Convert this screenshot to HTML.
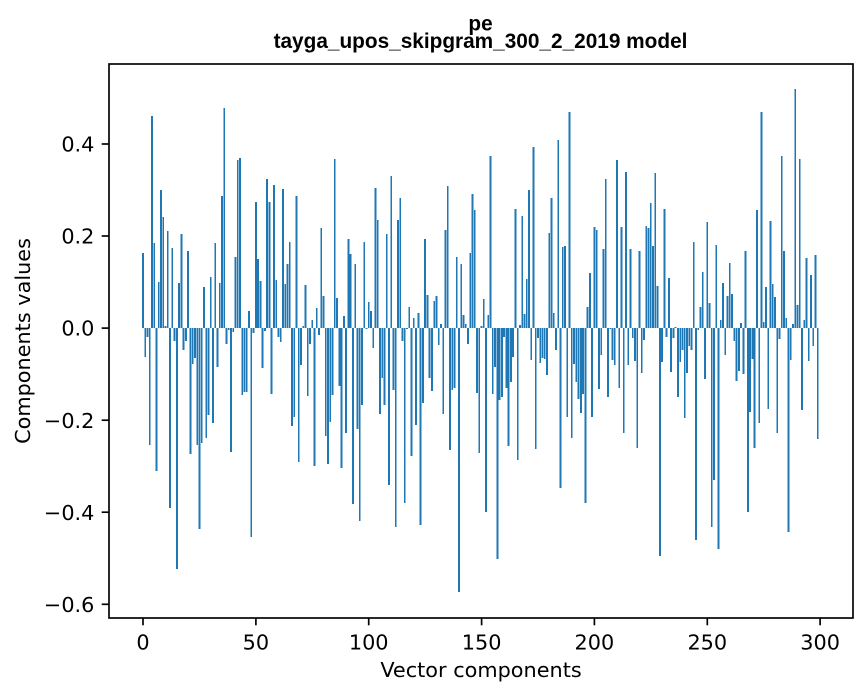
<!DOCTYPE html>
<html><head><meta charset="utf-8"><style>
html,body{margin:0;padding:0;background:#fff;}
svg{display:block;}
.t{font-family:"DejaVu Sans","Liberation Sans",sans-serif;font-size:20.8px;fill:#000;}
.ttl{font-family:"Liberation Sans",Arial,sans-serif;font-size:20.8px;font-weight:bold;fill:#000;}
</style></head><body>
<svg width="867" height="696" viewBox="0 0 867 696" xmlns="http://www.w3.org/2000/svg">
<rect width="867" height="696" fill="#fff"/>
<g transform="translate(143,327.8) scale(2.257,1)">
<path fill="#1f77b4" shape-rendering="crispEdges" d="M-0.4 0v-74.7h.8V0zm1 0v29h.8V0zm1 0v9h.8V0zm1 0v117h.8V0zm1 0v-211.7h.8V0zm1 0v-84.7h.8V0zm1 0v143h.8V0zm1 0v-45.7h.8V0zm1 0v-137.7h.8V0zm1 0v-110.7h.8V0zm1 0v-2h.8V0zm1 0v-96.7h.8V0zm1 0v180h.8V0zm1 0v-79.7h.8V0zm1 0v13h.8V0zm1 0v241h.8V0zm1 0v-44.7h.8V0zm1 0v-93.7h.8V0zm1 0v22h.8V0zm1 0v13h.8V0zm1 0v-76.7h.8V0zm1 0v126h.8V0zm1 0v36h.8V0zm1 0v30h.8V0zm1 0v117h.8V0zm1 0v201h.8V0zm1 0v115h.8V0zm1 0v-40.7h.8V0zm1 0v110h.8V0zm1 0v87h.8V0zm1 0v-50.7h.8V0zm1 0v95h.8V0zm1 0v-84.7h.8V0zm1 0v39h.8V0zm1 0v-44.7h.8V0zm1 0v-131.7h.8V0zm1 0v-219.7h.8V0zm1 0v16h.8V0zm1 0v2h.8V0zm1 0v124h.8V0zm1 0v4h.8V0zm1 0v-70.7h.8V0zm1 0v-167.7h.8V0zm1 0v-169.7h.8V0zm1 0v67h.8V0zm1 0v64h.8V0zm1 0v64h.8V0zm1 0v-17h.8V0zm1 0v209h.8V0zm1 0v5h.8V0zm1 0v-125.7h.8V0zm1 0v-68.7h.8V0zm1 0v-46.7h.8V0zm1 0v40h.8V0zm1 0v3h.8V0zm1 0v-148.7h.8V0zm1 0v-125.7h.8V0zm1 0v66h.8V0zm1 0v-142.7h.8V0zm1 0v-47.7h.8V0zm1 0v9h.8V0zm1 0v14h.8V0zm1 0v-138.7h.8V0zm1 0v-43.7h.8V0zm1 0v-63.7h.8V0zm1 0v-85.7h.8V0zm1 0v98h.8V0zm1 0v89h.8V0zm1 0v-131.7h.8V0zm1 0v134h.8V0zm1 0v37h.8V0zm1 0v-1.7h.8V0zm1 0v-42.7h.8V0zm1 0v68h.8V0zm1 0v16h.8V0zm1 0v-7.7h.8V0zm1 0v138h.8V0zm1 0v-19.7h.8V0zm1 0v7h.8V0zm1 0v-99.7h.8V0zm1 0v-31.7h.8V0zm1 0v108h.8V0zm1 0v136h.8V0zm1 0v94h.8V0zm1 0v67h.8V0zm1 0v-168.7h.8V0zm1 0v-29.7h.8V0zm1 0v58h.8V0zm1 0v140h.8V0zm1 0v-11.7h.8V0zm1 0v105h.8V0zm1 0v-88.7h.8V0zm1 0v-73.7h.8V0zm1 0v176h.8V0zm1 0v-63.7h.8V0zm1 0v101h.8V0zm1 0v193h.8V0zm1 0v77h.8V0zm1 0v-85.7h.8V0zm1 0v1h.8V0zm1 0v-25.7h.8V0zm1 0v-16.7h.8V0zm1 0v20h.8V0zm1 0v-139.7h.8V0zm1 0v-107.7h.8V0zm1 0v86h.8V0zm1 0v50h.8V0zm1 0v77h.8V0zm1 0v-93.7h.8V0zm1 0v157h.8V0zm1 0v-151.7h.8V0zm1 0v62h.8V0zm1 0v199h.8V0zm1 0v-107.7h.8V0zm1 0v-129.7h.8V0zm1 0v13h.8V0zm1 0v175h.8V0zm1 0v1h.8V0zm1 0v-20.7h.8V0zm1 0v128h.8V0zm1 0v-9.7h.8V0zm1 0v97h.8V0zm1 0v-14.7h.8V0zm1 0v197h.8V0zm1 0v75h.8V0zm1 0v-88.7h.8V0zm1 0v-32.7h.8V0zm1 0v50h.8V0zm1 0v63h.8V0zm1 0v-26.7h.8V0zm1 0v-31.7h.8V0zm1 0v17h.8V0zm1 0v-3.7h.8V0zm1 0v86h.8V0zm1 0v-97.7h.8V0zm1 0v-141.7h.8V0zm1 0v122h.8V0zm1 0v62h.8V0zm1 0v60h.8V0zm1 0v-70.7h.8V0zm1 0v264h.8V0zm1 0v-63.7h.8V0zm1 0v-12.7h.8V0zm1 0v-3.7h.8V0zm1 0v16h.8V0zm1 0v-74.7h.8V0zm1 0v-133.7h.8V0zm1 0v-117.7h.8V0zm1 0v65h.8V0zm1 0v125h.8V0zm1 0v-1.7h.8V0zm1 0v-28.7h.8V0zm1 0v184h.8V0zm1 0v-12.7h.8V0zm1 0v-171.7h.8V0zm1 0v66h.8V0zm1 0v39h.8V0zm1 0v231h.8V0zm1 0v72h.8V0zm1 0v69h.8V0zm1 0v9h.8V0zm1 0v60h.8V0zm1 0v118h.8V0zm1 0v54h.8V0zm1 0v29h.8V0zm1 0v-118.7h.8V0zm1 0v132h.8V0zm1 0v-3h.8V0zm1 0v-111.7h.8V0zm1 0v-13.7h.8V0zm1 0v-48.7h.8V0zm1 0v-137.7h.8V0zm1 0v32h.8V0zm1 0v-180.7h.8V0zm1 0v121h.8V0zm1 0v10h.8V0zm1 0v35h.8V0zm1 0v30h.8V0zm1 0v31h.8V0zm1 0v47h.8V0zm1 0v-94.7h.8V0zm1 0v-129.7h.8V0zm1 0v-14.7h.8V0zm1 0v22h.8V0zm1 0v-187.7h.8V0zm1 0v160h.8V0zm1 0v-80.7h.8V0zm1 0v-81.7h.8V0zm1 0v89h.8V0zm1 0v-215.7h.8V0zm1 0v110h.8V0zm1 0v36h.8V0zm1 0v54h.8V0zm1 0v71h.8V0zm1 0v85h.8V0zm1 0v66h.8V0zm1 0v175h.8V0zm1 0v-20.7h.8V0zm1 0v-54.7h.8V0zm1 0v89h.8V0zm1 0v-100.7h.8V0zm1 0v-97.7h.8V0zm1 0v61h.8V0zm1 0v27h.8V0zm1 0v-78.7h.8V0zm1 0v-148.7h.8V0zm1 0v69h.8V0zm1 0v1h.8V0zm1 0v32h.8V0zm1 0v37h.8V0zm1 0v-167.7h.8V0zm1 0v60h.8V0zm1 0v-100.7h.8V0zm1 0v105h.8V0zm1 0v-155.7h.8V0zm1 0v37h.8V0zm1 0v-78.7h.8V0zm1 0v10h.8V0zm1 0v33h.8V0zm1 0v120h.8V0zm1 0v-76.7h.8V0zm1 0v45h.8V0zm1 0v12h.8V0zm1 0v-101.7h.8V0zm1 0v-99.7h.8V0zm1 0v-124.7h.8V0zm1 0v-81.7h.8V0zm1 0v-154.7h.8V0zm1 0v-41.7h.8V0zm1 0v228h.8V0zm1 0v34h.8V0zm1 0v-118.7h.8V0zm1 0v9h.8V0zm1 0v-49.7h.8V0zm1 0v44h.8V0zm1 0v10h.8V0zm1 0v-1h.8V0zm1 0v69h.8V0zm1 0v34h.8V0zm1 0v22h.8V0zm1 0v90h.8V0zm1 0v45h.8V0zm1 0v18h.8V0zm1 0v22h.8V0zm1 0v-85.7h.8V0zm1 0v212h.8V0zm1 0v2h.8V0zm1 0v-20.7h.8V0zm1 0v-55.7h.8V0zm1 0v51h.8V0zm1 0v-105.7h.8V0zm1 0v-24.7h.8V0zm1 0v199h.8V0zm1 0v152h.8V0zm1 0v-82.7h.8V0zm1 0v221h.8V0zm1 0v-7.7h.8V0zm1 0v-44.7h.8V0zm1 0v27h.8V0zm1 0v-31.7h.8V0zm1 0v-64.7h.8V0zm1 0v-33.7h.8V0zm1 0v13h.8V0zm1 0v53h.8V0zm1 0v43h.8V0zm1 0v-4.7h.8V0zm1 0v46h.8V0zm1 0v-76.7h.8V0zm1 0v184h.8V0zm1 0v84h.8V0zm1 0v31h.8V0zm1 0v120h.8V0zm1 0v-117.7h.8V0zm1 0v95h.8V0zm1 0v-215.7h.8V0zm1 0v-5.7h.8V0zm1 0v-40.7h.8V0zm1 0v81h.8V0zm1 0v-106.7h.8V0zm1 0v-43.7h.8V0zm1 0v-30.7h.8V0zm1 0v105h.8V0zm1 0v11h.8V0zm1 0v-171.7h.8V0zm1 0v-76.7h.8V0zm1 0v-9.7h.8V0zm1 0v204h.8V0zm1 0v32h.8V0zm1 0v-3.7h.8V0zm1 0v-238.7h.8V0zm1 0v-22.7h.8V0zm1 0v-168.7h.8V0zm1 0v82h.8V0zm1 0v-7.7h.8V0zm1 0v-69.7h.8V0zm1 0v33h.8V0zm1 0v-52.7h.8V0zm1 0v18h.8V0zm1 0v-72.7h.8V0zm1 0v111h.8V0z"/>
</g>
<!-- frame -->
<rect x="109" y="64" width="744" height="554" fill="none" stroke="#000" stroke-width="1.67"/>
<g stroke="#000" stroke-width="1.67">
<line x1="101.7" y1="144" x2="109" y2="144"/>
<line x1="101.7" y1="236" x2="109" y2="236"/>
<line x1="101.7" y1="328.1" x2="109" y2="328.1"/>
<line x1="101.7" y1="420.2" x2="109" y2="420.2"/>
<line x1="101.7" y1="512.2" x2="109" y2="512.2"/>
<line x1="101.7" y1="604.3" x2="109" y2="604.3"/>
<line x1="143" y1="618" x2="143" y2="625.3"/>
<line x1="255.9" y1="618" x2="255.9" y2="625.3"/>
<line x1="368.7" y1="618" x2="368.7" y2="625.3"/>
<line x1="481.6" y1="618" x2="481.6" y2="625.3"/>
<line x1="594.4" y1="618" x2="594.4" y2="625.3"/>
<line x1="707.3" y1="618" x2="707.3" y2="625.3"/>
<line x1="820.1" y1="618" x2="820.1" y2="625.3"/>
</g>
<g class="t" text-anchor="end">
<text x="94.4" y="151.6">0.4</text>
<text x="94.4" y="243.6">0.2</text>
<text x="94.4" y="335.7">0.0</text>
<text x="94.4" y="427.8">−0.2</text>
<text x="94.4" y="519.8">−0.4</text>
<text x="94.4" y="611.9">−0.6</text>
</g>
<g class="t" text-anchor="middle">
<text x="143" y="649.5">0</text>
<text x="255.9" y="649.5">50</text>
<text x="368.7" y="649.5">100</text>
<text x="481.6" y="649.5">150</text>
<text x="594.4" y="649.5">200</text>
<text x="707.3" y="649.5">250</text>
<text x="820.1" y="649.5">300</text>
<text x="481" y="677">Vector components</text>
<text transform="translate(30,341) rotate(-90)">Components values</text>
</g>
<g class="ttl" text-anchor="middle">
<text x="480.5" y="30.3">pe</text>
<text x="480.5" y="47.8">tayga_upos_skipgram_300_2_2019 model</text>
</g>
</svg>
</body></html>
